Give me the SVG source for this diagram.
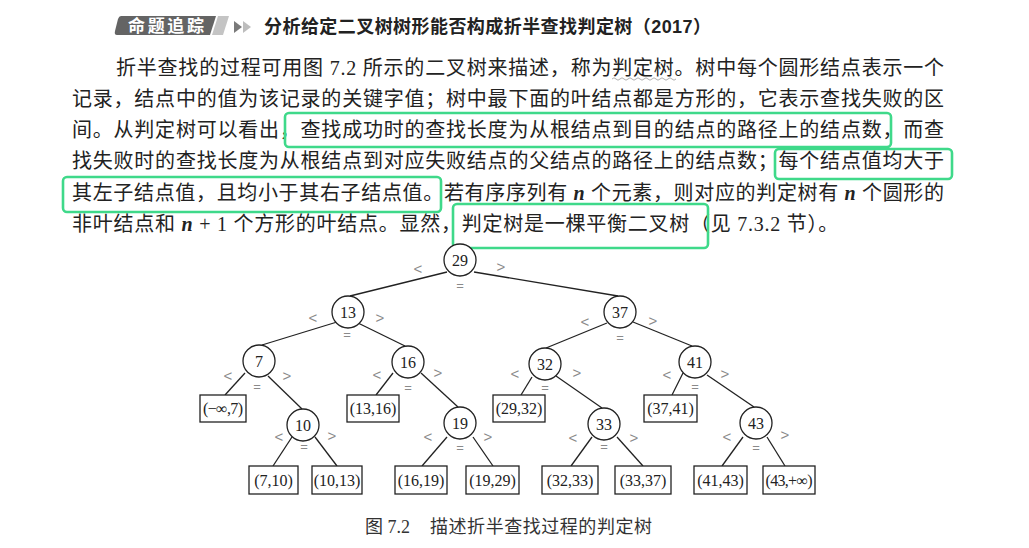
<svg xmlns="http://www.w3.org/2000/svg" width="1029" height="548" viewBox="0 0 1029 548">
<style>
.body{font-family:"Liberation Serif","Noto Sans CJK SC",serif;font-size:20px;fill:#222;}
.it{font-style:italic;font-weight:bold;}
.hl{fill:none;stroke:#3fd98a;stroke-width:2.6;}
.edge{stroke:#222;stroke-width:1.3;fill:none;}
.circ{fill:#fff;stroke:#222;stroke-width:1.3;}
.leaf{fill:#fff;stroke:#222;stroke-width:1.3;}
.num{font-family:"Liberation Serif",serif;font-size:16px;fill:#222;text-anchor:middle;}
.cmp{font-family:"Liberation Sans",sans-serif;font-size:15px;fill:#8a8a8a;text-anchor:middle;}
.eq{font-family:"Liberation Sans",sans-serif;font-size:13px;fill:#8a8a8a;text-anchor:middle;}
</style>
<rect width="1029" height="548" fill="#fff"/>

<g id="header">
  <path d="M121,16 L216,16 L210,35 L117,35 Q114,35 115,31 L118,19 Q119,16 121,16 Z" fill="#646464"/>
  <path d="M218,16 L229,16 L223,35 L212,35 Z" fill="#c4c4c4"/>
  <text x="128" y="32" font-family="Noto Sans CJK SC,sans-serif" font-size="17" font-weight="700" fill="#fff" textLength="76">命题追踪</text>
  <polygon points="234,21 242,27 234,33" fill="#7a7a7a"/>
  <polygon points="243,21 251,27 243,33" fill="#bdbdbd"/>
  <text x="264" y="33" font-family="Liberation Sans,Noto Sans CJK SC,sans-serif" font-size="18" font-weight="700" fill="#222" textLength="447">分析给定二叉树树形能否构成折半查找判定树（2017）</text>
</g>

<g id="paragraph">
  <text class="body" x="116" y="75" textLength="828">折半查找的过程可用图 7.2 所示的二叉树来描述，称为判定树。树中每个圆形结点表示一个</text>
  <path d="M612,79 q2,-2.4 4,0 t4,0 t4,0 t4,0 t4,0 t4,0 t4,0 t4,0 t4,0 t4,0 t4,0 t4,0 t4,0 t4,0 t4,0 t4,0" fill="none" stroke="#9a9a9a" stroke-width="0.8"/>
  <text class="body" x="72" y="106" textLength="872">记录，结点中的值为该记录的关键字值；树中最下面的叶结点都是方形的，它表示查找失败的区</text>
  <text class="body" x="72" y="137" textLength="872">间。从判定树可以看出，查找成功时的查找长度为从根结点到目的结点的路径上的结点数，而查</text>
  <text class="body" x="72" y="168" textLength="872">找失败时的查找长度为从根结点到对应失败结点的父结点的路径上的结点数；每个结点值均大于</text>
  <text class="body" x="72" y="200" textLength="872">其左子结点值，且均小于其右子结点值。若有序序列有 <tspan class="it">n</tspan> 个元素，则对应的判定树有 <tspan class="it">n</tspan> 个圆形的</text>
  <text class="body" x="72" y="231" letter-spacing="0.75">非叶结点和 <tspan class="it">n</tspan> + 1 个方形的叶结点。显然，判定树是一棵平衡二叉树（见 7.3.2 节）。</text>
</g>

<g id="highlights">
  <rect class="hl" x="285" y="113" width="606" height="34" rx="4"/>
  <rect class="hl" x="775" y="149" width="177" height="30" rx="4"/>
  <rect class="hl" x="63" y="177" width="378" height="35" rx="4"/>
  <rect class="hl" x="453" y="204" width="255" height="44" rx="4"/>
</g>

<g id="connectors">
  <line class="edge" x1="447" y1="272" x2="350" y2="296"/>
  <line class="edge" x1="474" y1="272" x2="618" y2="296"/>
  <line class="edge" x1="337" y1="322" x2="262" y2="345"/>
  <line class="edge" x1="358" y1="323" x2="405" y2="346"/>
  <line class="edge" x1="245" y1="373" x2="225" y2="395"/>
  <line class="edge" x1="268" y1="376" x2="302" y2="409"/>
  <line class="edge" x1="393" y1="373" x2="376" y2="395"/>
  <line class="edge" x1="421" y1="373" x2="458" y2="407"/>
  <line class="edge" x1="607" y1="323" x2="546" y2="348"/>
  <line class="edge" x1="633" y1="322" x2="692" y2="346"/>
  <line class="edge" x1="532" y1="377" x2="521" y2="395"/>
  <line class="edge" x1="556" y1="376" x2="602" y2="408"/>
  <line class="edge" x1="683" y1="373" x2="672" y2="395"/>
  <line class="edge" x1="707" y1="375" x2="754" y2="407"/>
  <line class="edge" x1="292" y1="437" x2="273" y2="466"/>
  <line class="edge" x1="315" y1="437" x2="337" y2="466"/>
  <line class="edge" x1="447" y1="437" x2="422" y2="466"/>
  <line class="edge" x1="473" y1="437" x2="493" y2="466"/>
  <line class="edge" x1="592" y1="437" x2="571" y2="466"/>
  <line class="edge" x1="617" y1="437" x2="643" y2="466"/>
  <line class="edge" x1="743" y1="437" x2="722" y2="466"/>
  <line class="edge" x1="767" y1="437" x2="785" y2="466"/>
</g>

<g id="n29"><circle class="circ" cx="460" cy="260" r="16"/><text class="num" x="460" y="265.5">29</text>
  <text class="cmp" x="418" y="274">&lt;</text><text class="cmp" x="501" y="272">&gt;</text><text class="eq" x="460" y="290">=</text></g>
<g id="n13"><circle class="circ" cx="348" cy="312" r="16"/><text class="num" x="348" y="317.5">13</text>
  <text class="cmp" x="313" y="323">&lt;</text><text class="cmp" x="380" y="323">&gt;</text><text class="eq" x="347" y="339">=</text></g>
<g id="n37"><circle class="circ" cx="620" cy="312" r="16"/><text class="num" x="620" y="317.5">37</text>
  <text class="cmp" x="585" y="327">&lt;</text><text class="cmp" x="653" y="326">&gt;</text><text class="eq" x="620" y="342">=</text></g>
<g id="n7"><circle class="circ" cx="259" cy="361" r="16"/><text class="num" x="259" y="366.5">7</text>
  <text class="cmp" x="228" y="381">&lt;</text><text class="cmp" x="287" y="381">&gt;</text><text class="eq" x="257" y="391">=</text></g>
<g id="n16"><circle class="circ" cx="408" cy="362" r="16"/><text class="num" x="408" y="367.5">16</text>
  <text class="cmp" x="377" y="380">&lt;</text><text class="cmp" x="438" y="378">&gt;</text><text class="eq" x="408" y="392">=</text></g>
<g id="n32"><circle class="circ" cx="545" cy="364" r="16"/><text class="num" x="545" y="369.5">32</text>
  <text class="cmp" x="515" y="379">&lt;</text><text class="cmp" x="577" y="378">&gt;</text><text class="eq" x="545" y="392">=</text></g>
<g id="n41"><circle class="circ" cx="695" cy="362" r="16"/><text class="num" x="695" y="367.5">41</text>
  <text class="cmp" x="667" y="380">&lt;</text><text class="cmp" x="725" y="379">&gt;</text><text class="eq" x="695" y="391">=</text></g>
<g id="n10"><circle class="circ" cx="303" cy="425" r="16"/><text class="num" x="303" y="430.5">10</text>
  <text class="cmp" x="279" y="442">&lt;</text><text class="cmp" x="332" y="441">&gt;</text><text class="eq" x="304" y="451">=</text></g>
<g id="n19"><circle class="circ" cx="460" cy="423" r="16"/><text class="num" x="460" y="428.5">19</text>
  <text class="cmp" x="428" y="442">&lt;</text><text class="cmp" x="488" y="442">&gt;</text><text class="eq" x="460" y="452">=</text></g>
<g id="n33"><circle class="circ" cx="604" cy="424" r="16"/><text class="num" x="604" y="429.5">33</text>
  <text class="cmp" x="573" y="443">&lt;</text><text class="cmp" x="634" y="443">&gt;</text><text class="eq" x="604" y="451">=</text></g>
<g id="n43"><circle class="circ" cx="756" cy="423" r="16"/><text class="num" x="756" y="428.5">43</text>
  <text class="cmp" x="727" y="442">&lt;</text><text class="cmp" x="785" y="440">&gt;</text><text class="eq" x="756" y="452">=</text></g>

<g id="leaf-ninf-7"><rect class="leaf" x="200" y="395" width="46" height="27"/><text class="num" x="223" y="414" font-size="15" textLength="40">(−∞,7)</text></g>
<g id="leaf-13-16"><rect class="leaf" x="347" y="395" width="52" height="27"/><text class="num" x="373" y="414">(13,16)</text></g>
<g id="leaf-29-32"><rect class="leaf" x="493" y="395" width="52" height="27"/><text class="num" x="519" y="414">(29,32)</text></g>
<g id="leaf-37-41"><rect class="leaf" x="644" y="395" width="53" height="27"/><text class="num" x="670.5" y="414">(37,41)</text></g>
<g id="leaf-7-10"><rect class="leaf" x="249" y="466" width="49" height="28"/><text class="num" x="273.5" y="485.5">(7,10)</text></g>
<g id="leaf-10-13"><rect class="leaf" x="312" y="466" width="50" height="28"/><text class="num" x="337" y="485.5">(10,13)</text></g>
<g id="leaf-16-19"><rect class="leaf" x="395" y="466" width="52" height="28"/><text class="num" x="421" y="485.5">(16,19)</text></g>
<g id="leaf-19-29"><rect class="leaf" x="466" y="466" width="53" height="28"/><text class="num" x="492.5" y="485.5">(19,29)</text></g>
<g id="leaf-32-33"><rect class="leaf" x="542" y="466" width="56" height="28"/><text class="num" x="570" y="485.5">(32,33)</text></g>
<g id="leaf-33-37"><rect class="leaf" x="615" y="466" width="56" height="28"/><text class="num" x="643" y="485.5">(33,37)</text></g>
<g id="leaf-41-43"><rect class="leaf" x="694" y="466" width="53" height="28"/><text class="num" x="720.5" y="485.5">(41,43)</text></g>
<g id="leaf-43-pinf"><rect class="leaf" x="763" y="466" width="52" height="28"/><text class="num" x="789" y="485.5" font-size="15" textLength="47">(43,+∞)</text></g>

<g id="caption">
  <text x="365" y="533" font-family="Liberation Serif,Noto Sans CJK SC,serif" font-size="18" fill="#333">图 7.2</text>
  <text x="430" y="533" font-family="Liberation Serif,Noto Sans CJK SC,serif" font-size="18" fill="#333" textLength="222">描述折半查找过程的判定树</text>
</g>
</svg>
